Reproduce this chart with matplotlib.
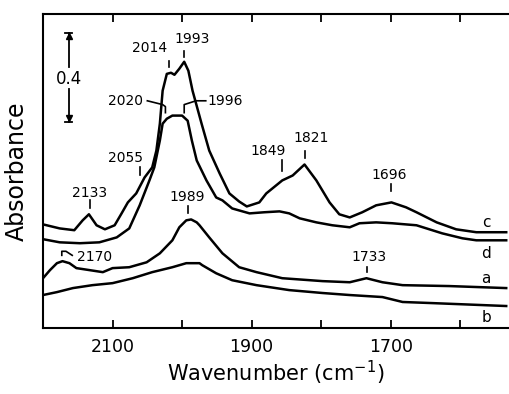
import numpy as np
import matplotlib.pyplot as plt

# wavenumber (cm-1) / absorbance
wn_c = [2200, 2176, 2155, 2143, 2134, 2123, 2111, 2097, 2087, 2078, 2066, 2054, 2043, 2037,
        2032, 2028, 2022, 2016, 2011, 2004, 1997, 1991, 1985, 1972, 1961, 1946, 1932, 1918,
        1907, 1889, 1879, 1856, 1841, 1824, 1807, 1788, 1774, 1759, 1741, 1721, 1699, 1678,
        1663, 1634, 1606, 1577, 1534]
abs_c = [0.462, 0.444, 0.436, 0.480, 0.507, 0.458, 0.440, 0.458, 0.511, 0.560, 0.600, 0.671, 0.716, 0.791,
         0.911, 1.058, 1.133, 1.138, 1.129, 1.156, 1.187, 1.147, 1.058, 0.911, 0.791, 0.689, 0.600, 0.564,
         0.542, 0.560, 0.600, 0.658, 0.680, 0.729, 0.658, 0.560, 0.507, 0.493, 0.516, 0.547, 0.560, 0.538,
         0.516, 0.471, 0.440, 0.427, 0.427]

wn_d = [2200, 2176, 2147, 2119, 2094, 2076, 2061, 2047, 2040, 2032, 2028, 2022, 2014, 2000,
        1992, 1986, 1979, 1965, 1951, 1942, 1928, 1903, 1882, 1860, 1846, 1831, 1807, 1784,
        1759, 1745, 1721, 1698, 1663, 1626, 1597, 1577, 1534]
abs_d = [0.396, 0.382, 0.378, 0.382, 0.404, 0.444, 0.547, 0.658, 0.716, 0.836, 0.911, 0.933, 0.947, 0.947,
         0.924, 0.836, 0.747, 0.658, 0.582, 0.569, 0.533, 0.511, 0.516, 0.520, 0.511, 0.489, 0.471, 0.458,
         0.449, 0.467, 0.471, 0.467, 0.458, 0.422, 0.400, 0.391, 0.391]

wn_a = [2200, 2190, 2180, 2172, 2162, 2152, 2133, 2114, 2100, 2076, 2051, 2032, 2014, 2004,
        1994, 1987, 1979, 1975, 1961, 1942, 1918, 1893, 1856, 1798, 1759, 1735, 1712, 1683,
        1616, 1534]
abs_a = [0.222, 0.258, 0.289, 0.298, 0.289, 0.267, 0.258, 0.249, 0.267, 0.271, 0.293, 0.333, 0.391, 0.449,
         0.480, 0.484, 0.471, 0.458, 0.404, 0.333, 0.271, 0.249, 0.222, 0.209, 0.204, 0.222, 0.204, 0.191,
         0.187, 0.178]

wn_b = [2200, 2180, 2157, 2129, 2100, 2071, 2043, 2014, 1994, 1975, 1971, 1951, 1928, 1893,
        1846, 1798, 1759, 1712, 1683, 1640, 1534]
abs_b = [0.147, 0.160, 0.178, 0.191, 0.200, 0.222, 0.249, 0.271, 0.289, 0.289, 0.280, 0.244, 0.213, 0.191,
         0.169, 0.156, 0.147, 0.138, 0.116, 0.111, 0.098]

# peak labels: text, tick position, tick bottom/top, text position
peaks = [
    ("2133", 2133, 0.533, 0.569, 2133, 0.604),
    ("2055", 2061, 0.680, 0.716, 2081, 0.760),
    ("2014", 2019, 1.164, 1.191, 2047, 1.249),
    ("1993", 1997, 1.209, 1.236, 1986, 1.289),
    ("1849", 1856, 0.702, 0.747, 1877, 0.791),
    ("1821", 1824, 0.760, 0.791, 1814, 0.849),
    ("1696", 1699, 0.613, 0.644, 1702, 0.680),
    ("1989", 1992, 0.511, 0.542, 1992, 0.582),
    ("1733", 1734, 0.249, 0.271, 1731, 0.316),
]
curve_names = ["c", "d", "a", "b"]
name_y = [0.471, 0.333, 0.222, 0.049]

fig = plt.figure(figsize=(5.09, 3.94), dpi=100)
ax = fig.add_axes([0.0845, 0.1675, 0.9155, 0.797])

for wn, ab in [(wn_c, abs_c), (wn_d, abs_d), (wn_a, abs_a), (wn_b, abs_b)]:
    ax.plot(wn, ab, color='black', lw=1.8, solid_joinstyle='round')

for txt, xt, y0, y1, xs, ys in peaks:
    ax.plot([xt, xt], [y0, y1], color='black', lw=1.2)
    ax.text(xs, ys, txt, ha='center', va='center', fontsize=10)

# bent leaders for 2020 / 1996 / 2170
ax.plot([2050, 2028, 2024, 2024], [1.013, 0.996, 0.987, 0.960], color='black', lw=1.2)
ax.text(2081, 1.013, "2020", ha='center', va='center', fontsize=10)
ax.plot([1997, 1997, 1980, 1966], [0.960, 0.996, 1.013, 1.013], color='black', lw=1.2)
ax.text(1938, 1.013, "1996", ha='center', va='center', fontsize=10)
ax.plot([2173, 2173, 2167, 2158], [0.324, 0.342, 0.342, 0.324], color='black', lw=1.2)
ax.text(2126, 0.316, "2170", ha='center', va='center', fontsize=10)

for nm, yy in zip(curve_names, name_y):
    ax.text(1563, yy, nm, ha='center', va='center', fontsize=11)

# 0.4 absorbance scale bar
ax.plot([2163, 2163], [1.316, 1.164], color='black', lw=1.3)
ax.plot([2163, 2163], [1.067, 0.920], color='black', lw=1.3)
ax.plot([2168, 2158], [1.316, 1.316], color='black', lw=1.3)
ax.plot([2168, 2158], [0.920, 0.920], color='black', lw=1.3)
ax.plot([2163], [1.300], marker='^', color='black', ms=5)
ax.plot([2163], [0.936], marker='v', color='black', ms=5)
ax.text(2163, 1.111, "0.4", ha='center', va='center', fontsize=12)

ax.set_xlim(2200, 1530)
ax.set_ylim(0, 1.4)
ax.set_xticks([2100, 2000, 1900, 1800, 1700, 1600])
ax.set_xticklabels(["2100", "", "1900", "", "1700", ""])
ax.set_yticks([])
ax.tick_params(axis='x', direction='in', top=True, length=6, width=1.3, labelsize=12.5, pad=7)
for s in ['left', 'top', 'bottom']:
    ax.spines[s].set_linewidth(1.5)
ax.spines['right'].set_visible(False)

ax.set_xlabel("Wavenumber (cm$^{-1}$)", fontsize=15, labelpad=2)
ax.set_ylabel("Absorbance", fontsize=17, labelpad=10)

fig.savefig("out.png", dpi=100)
